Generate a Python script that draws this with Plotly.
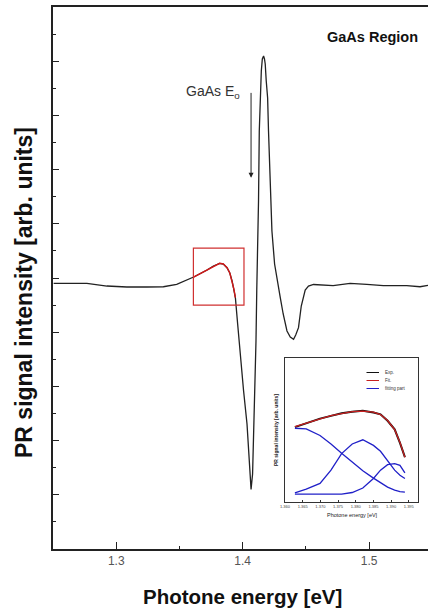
import plotly.graph_objects as go

# ---------------- main PR spectrum ----------------
energy = [1.2505, 1.2768, 1.2926, 1.3084, 1.3242, 1.3373, 1.3478, 1.3557, 1.3612, 1.3718,
          1.3768, 1.3818, 1.3847, 1.3876, 1.3898, 1.3916, 1.3930, 1.3942, 1.3960, 1.3981,
          1.4007, 1.4034, 1.4052, 1.4066, 1.4078, 1.4086, 1.4094, 1.4099, 1.4105, 1.4111,
          1.4119, 1.4125, 1.4131, 1.4139, 1.4147, 1.4155, 1.4165, 1.4172, 1.4178, 1.4186,
          1.4197, 1.4204, 1.4212, 1.4222, 1.4231, 1.4252, 1.4273, 1.4297, 1.4320, 1.4350,
          1.4376, 1.4402, 1.4419, 1.4441, 1.4463, 1.4481, 1.4494, 1.4520, 1.4560, 1.4715,
          1.4849, 1.4981, 1.5112, 1.5297, 1.5402, 1.5465]
intensity = [-0.098, -0.098, -0.148, -0.166, -0.166, -0.161, -0.116, -0.037, 0.018, 0.148,
             0.221, 0.271, 0.258, 0.190, 0.092, -0.055, -0.203, -0.363, -0.849, -1.470,
             -2.085, -2.694, -3.317, -3.900, -3.616, -3.007, -2.393, -1.771, -1.162, -0.240,
             0.498, 1.421, 2.712, 3.321, 3.819, 4.041, 4.096, 4.041, 3.948, 3.635,
             3.321, 2.712, 2.103, 1.421, 0.867, 0.258, -0.055, -0.363, -0.664, -0.978,
             -1.089, -1.131, -1.052, -0.917, -0.517, -0.363, -0.221, -0.148, -0.120, -0.142,
             -0.098, -0.116, -0.142, -0.142, -0.161, -0.135]

# highlighted region (red box) in data units
box_energy = [1.361, 1.401]
box_intensity = [-0.5, 0.55]

x_ticks = [1.3, 1.4, 1.5]
x_tick_text = ["1.3", "1.4", "1.5"]

# ---------------- inset (fitting) ----------------
inset_energy = [1.3628, 1.3660, 1.3699, 1.3730, 1.3760, 1.3790, 1.3820, 1.3850, 1.3870,
                1.3890, 1.3910, 1.3925, 1.3939]
inset_exp = [0.520, 0.546, 0.579, 0.598, 0.616, 0.626, 0.633, 0.622, 0.609, 0.564, 0.505, 0.411, 0.312]
inset_fit = [0.524, 0.548, 0.577, 0.600, 0.614, 0.628, 0.631, 0.624, 0.607, 0.566, 0.503, 0.414, 0.310]
inset_part1 = [0.512, 0.508, 0.462, 0.403, 0.338, 0.276, 0.217, 0.166, 0.134, 0.103, 0.083, 0.072, 0.069]
inset_part2 = [0.064, 0.090, 0.129, 0.221, 0.336, 0.403, 0.432, 0.393, 0.352, 0.283, 0.221, 0.186, 0.163]
inset_part3 = [0.055, 0.055, 0.055, 0.055, 0.055, 0.066, 0.097, 0.163, 0.221, 0.259, 0.267, 0.255, 0.202]
inset_ticks = [1.360, 1.365, 1.370, 1.375, 1.380, 1.385, 1.390, 1.395]
inset_tick_text = ["1.360", "1.365", "1.370", "1.375", "1.380", "1.385", "1.390", "1.395"]
legend_names = ["Exp.", "Fit.", "fitting part"]
legend_colors = ["#111111", "#c62020", "#2020c8"]

FONT = "Arial, Liberation Sans, sans-serif"
W, H = 428, 609
L, R, T, B = 53, 0, 7, 60


def px(xp):
    return (xp - L) / (W - L - R)


def py(yp):
    return (H - B - yp) / (H - T - B)


fig = go.Figure()

# main black curve
fig.add_trace(go.Scatter(x=energy, y=intensity, mode="lines",
                         line=dict(color="#222222", width=1.3), showlegend=False,
                         hoverinfo="skip"))
# red portion inside the box
red_x = [e for e, v in zip(energy, intensity) if box_energy[0] <= e <= box_energy[1] - 0.006]
red_y = [v for e, v in zip(energy, intensity) if box_energy[0] <= e <= box_energy[1] - 0.006]
fig.add_trace(go.Scatter(x=red_x, y=red_y, mode="lines",
                         line=dict(color="#d01818", width=1.4), showlegend=False,
                         hoverinfo="skip"))

fig.add_shape(type="rect", xref="x", yref="y",
              x0=box_energy[0], x1=box_energy[1], y0=box_intensity[0], y1=box_intensity[1],
              line=dict(color="#d03030", width=1.2))

# inset traces
fig.add_trace(go.Scatter(x=inset_energy, y=inset_exp, xaxis="x2", yaxis="y2", mode="lines",
                         line=dict(color=legend_colors[0], width=2), showlegend=False))
fig.add_trace(go.Scatter(x=inset_energy, y=inset_fit, xaxis="x2", yaxis="y2", mode="lines",
                         line=dict(color=legend_colors[1], width=1.3), showlegend=False))
for part in (inset_part1, inset_part2, inset_part3):
    fig.add_trace(go.Scatter(x=inset_energy, y=part, xaxis="x2", yaxis="y2", mode="lines",
                             line=dict(color=legend_colors[2], width=1.3), showlegend=False))

# manual inset legend
leg_y = [372.5, 380.5, 388.5]
for name, col, yy in zip(legend_names, legend_colors, leg_y):
    fig.add_shape(type="line", xref="paper", yref="paper",
                  x0=px(366.5), x1=px(379), y0=py(yy), y1=py(yy),
                  line=dict(color=col, width=1))
    fig.add_annotation(xref="paper", yref="paper", x=px(383), y=py(yy), text=name,
                       showarrow=False, xanchor="left", yanchor="middle",
                       font=dict(family=FONT, size=4.5, color="#333333"))

# arrow and labels
fig.add_annotation(x=1.4066, y=1.85, ax=1.4066, ay=3.60, xref="x", yref="y",
                   axref="x", ayref="y", showarrow=True, arrowhead=2, arrowsize=1,
                   arrowwidth=1, arrowcolor="#222222", text=" ")
fig.add_annotation(x=1.3539, y=3.44, xref="x", yref="y", text="GaAs E<sub>o</sub>",
                   showarrow=False, xanchor="left", yanchor="middle",
                   font=dict(family=FONT, size=14, color="#333333"))
fig.add_annotation(xref="paper", yref="paper", x=px(372.5), y=py(36.7), text="<b>GaAs Region</b>",
                   showarrow=False, xanchor="center", yanchor="middle",
                   font=dict(family=FONT, size=14.5, color="#111111"))

# axis titles
fig.add_annotation(xref="paper", yref="paper", x=px(242.5), y=py(596),
                   text="<b>Photone energy [eV]</b>", showarrow=False,
                   xanchor="center", yanchor="middle",
                   font=dict(family=FONT, size=20.5, color="#111111"))
fig.add_annotation(xref="paper", yref="paper", x=px(24), y=py(293),
                   text="<b>PR signal intensity [arb. units]</b>", showarrow=False,
                   textangle=-90, xanchor="center", yanchor="middle",
                   font=dict(family=FONT, size=23, color="#111111"))
fig.add_annotation(xref="paper", yref="paper", x=px(276), y=py(430),
                   text="<b>PR signal intensity [arb. units]</b>", showarrow=False,
                   textangle=-90, xanchor="center", yanchor="middle",
                   font=dict(family=FONT, size=5, color="#222222"))
fig.add_annotation(xref="paper", yref="paper", x=px(352), y=py(515),
                   text="Photone energy [eV]", showarrow=False,
                   xanchor="center", yanchor="middle",
                   font=dict(family=FONT, size=5.5, color="#222222"))

fig.update_layout(
    width=W, height=H,
    margin=dict(l=L, r=R, t=T, b=B),
    paper_bgcolor="white", plot_bgcolor="white",
    showlegend=False,
    xaxis=dict(range=[1.25, 1.5465], tickvals=x_ticks, ticktext=x_tick_text,
               ticks="inside", ticklen=7, tickwidth=1, tickcolor="#222222",
               minor=dict(dtick=0.05, tick0=1.25, ticks="inside", ticklen=3, tickcolor="#222222"),
               showline=True, linecolor="#222222", linewidth=1.5, mirror=True,
               showgrid=False, zeroline=False,
               tickfont=dict(family=FONT, size=12, color="#555555")),
    yaxis=dict(range=[-5, 5], dtick=1, tick0=0, ticks="inside", ticklen=6, tickwidth=1,
               tickcolor="#222222", showticklabels=False,
               minor=dict(dtick=0.5, tick0=0, ticks="inside", ticklen=3, tickcolor="#222222"),
               showline=True, linecolor="#222222", linewidth=1.5, mirror=False,
               showgrid=False, zeroline=False),
    xaxis2=dict(domain=[px(285), px(418)], anchor="y2", range=[1.36, 1.3976],
                tickvals=inset_ticks, ticktext=inset_tick_text, ticks="inside", ticklen=2,
                tickcolor="#333333", tickfont=dict(family=FONT, size=4, color="#444444"),
                showline=True, linecolor="#333333", linewidth=1, mirror=True,
                showgrid=False, zeroline=False),
    yaxis2=dict(domain=[py(502), py(358)], anchor="x2", range=[0, 1],
                showticklabels=False, ticks="",
                showline=True, linecolor="#333333", linewidth=1, mirror=True,
                showgrid=False, zeroline=False),
)

fig.write_html("out.html", config={"displayModeBar": False},
               post_script="document.body.style.margin='0';document.body.style.overflow='hidden';")
